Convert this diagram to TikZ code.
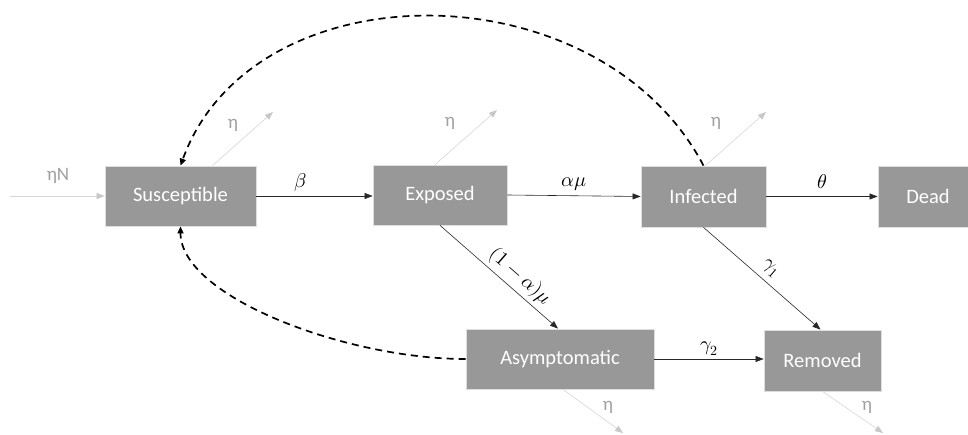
\documentclass[tikz,border=0pt]{standalone}
\usepackage{fontspec}
\usepackage{unicode-math}
\setmainfont{Carlito}
\setmathfont{Latin Modern Math}
\usetikzlibrary{arrows.meta,positioning}
\definecolor{boxgray}{RGB}{152,152,152}
\definecolor{glow}{RGB}{222,222,222}
\definecolor{lightline}{RGB}{215,215,215}
\definecolor{lighttip}{RGB}{200,200,200}
\definecolor{etagray}{RGB}{160,160,160}
\definecolor{darkline}{RGB}{40,40,40}
\tikzset{
  compbox/.style={rectangle, fill=boxgray, draw=glow, line width=0.8pt, text=white,
    inner sep=0pt, font=\fontsize{20.5}{24}\selectfont},
  arr/.style={draw=darkline, line width=0.6pt, -{Triangle[length=8pt,width=6pt]}},
  dasharr/.style={draw=black, line width=1.7pt, dash pattern=on 7pt off 5pt,
    -{Triangle[length=7pt,width=6pt]}},
  grayarr/.style={draw=lightline, line width=0.6pt, -{Triangle[length=8pt,width=6pt,color=lighttip]}},
  etalabel/.style={text=etagray, font=\fontsize{19}{22}\selectfont, inner sep=0pt},
  mathlabel/.style={font=\fontsize{20}{23}\selectfont, text=black, inner sep=2pt}
}
\begin{document}
\begin{tikzpicture}[x=1pt,y=-1pt]
\clip (0,0) rectangle (968,435);
\fill[white] (0,0) rectangle (968,435);

% compartments
\node[compbox, minimum width=151pt, minimum height=60pt] (S) at (180.5,196) {Susceptible};
\node[compbox, minimum width=134pt, minimum height=60pt] (E) at (440,195) {Exposed};
\node[compbox, minimum width=125pt, minimum height=61pt] (I) at (703.5,196.5) {Infected};
\node[compbox, minimum width=100pt, minimum height=61pt] (D) at (928,196.5) {Dead};
\node[compbox, minimum width=188pt, minimum height=60pt] (A) at (560,359) {Asymptomatic};
\node[compbox, minimum width=117pt, minimum height=61pt] (R) at (822.5,360.5) {Removed};

% transitions
\draw[arr] (S.east) -- node[mathlabel, pos=0.38, above=2pt] {$\beta$} (E.west |- S.east);
\draw[arr] (E.east) -- node[mathlabel, midway, above=3pt] {$\alpha\mu$} (I.west);
\draw[arr] (I.east) -- node[mathlabel, midway, above=5pt] {$\theta$} (D.west);
\draw[arr] (E.south) -- node[mathlabel, pos=0.6, sloped, above=2pt] {$(1-\alpha)\mu$} ([xshift=-2pt]A.north);
\draw[arr] (I.south) -- node[mathlabel, midway, sloped, above=4pt] {$\gamma_1$} ([xshift=-2pt]R.north);
\draw[arr] (A.east) -- node[mathlabel, midway, above=1pt] {$\gamma_2$} (R.west |- A.east);

% feedback (dashed)
\draw[dasharr] (I.north) .. controls +(-105,-199) and +(72,-199) .. (S.north);
\draw[dasharr] (A.west) .. controls +(-120,0) and +(0,70) .. (S.south);

% births and deaths (light gray)
\coordinate (inN) at (10,196);
\draw[grayarr] (inN) -- (S.west);
\node[etalabel] (lN) at (58,176) {ηN};

\coordinate (outS) at (273,112);
\draw[grayarr] ([xshift=32pt]S.north) -- (outS);
\node[etalabel] (lS) at (233,125) {η};

\coordinate (outE) at (497,110);
\draw[grayarr] ([xshift=-5pt]E.north) -- (outE);
\node[etalabel] (lE) at (450,123) {η};

\coordinate (outI) at (766,112);
\draw[grayarr] ([xshift=2pt]I.north) -- (outI);
\node[etalabel] (lI) at (716,123) {η};

\coordinate (outA) at (623,433);
\draw[grayarr] ([xshift=3pt]A.south) -- (outA);
\node[etalabel] (lA) at (608,407) {η};

\coordinate (outR) at (883,433);
\draw[grayarr] (R.south) -- (outR);
\node[etalabel] (lR) at (867,407) {η};
\end{tikzpicture}
\end{document}
